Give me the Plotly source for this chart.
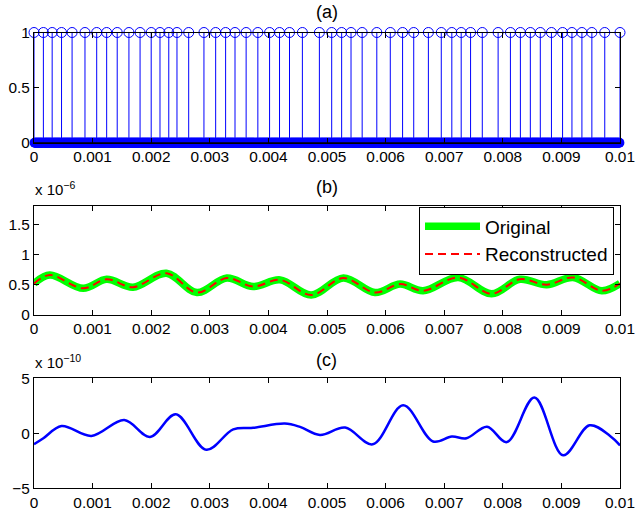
import numpy as np
import plotly.graph_objects as go

# ---------------- data ----------------
# (a) sampling pattern: times where the mask equals 1
sample_times = [0.0, 0.00016, 0.00031, 0.00047, 0.00065, 0.00087, 0.00107, 0.00124,
                0.00142, 0.00162, 0.00181, 0.00200, 0.00215, 0.00230, 0.00244, 0.00264,
                0.00290, 0.00310, 0.00327, 0.00343, 0.00362, 0.00382, 0.00402, 0.00419,
                0.00436, 0.00458, 0.00487, 0.00508, 0.00525, 0.00541, 0.00560, 0.00585,
                0.00608, 0.00629, 0.00648, 0.00673, 0.00695, 0.00713, 0.00729, 0.00745,
                0.00765, 0.00792, 0.00813, 0.00830, 0.00847, 0.00864, 0.00883, 0.00902,
                0.00918, 0.00935, 0.00952, 0.00974, 0.01]
n_grid = 1001  # number of time samples shown on the dense zero band

# (b) original / reconstructed signal (units of 1e-6)
t_b = [0.0, 0.00027, 0.00084, 0.00124, 0.00169, 0.00226, 0.00278, 0.00329, 0.00374,
       0.00420, 0.00473, 0.00528, 0.00582, 0.00625, 0.00664, 0.00724, 0.00781, 0.00829,
       0.00875, 0.00920, 0.00969, 0.01]
orig_b = [0.52, 0.66, 0.44, 0.59, 0.46, 0.69, 0.37, 0.61, 0.47, 0.58, 0.33, 0.61, 0.37,
          0.51, 0.40, 0.62, 0.35, 0.59, 0.50, 0.62, 0.40, 0.52]
recon_b = list(orig_b)

# (c) reconstruction error (units of 1e-10)
t_c = [0.0, 0.00016, 0.00047, 0.00098, 0.00154, 0.00198, 0.00242, 0.00294, 0.00340,
       0.00374, 0.00428, 0.00454, 0.00488, 0.00531, 0.00578, 0.00630, 0.00681, 0.00713,
       0.00738, 0.00773, 0.00807, 0.00854, 0.00903, 0.00948, 0.00983, 0.01]
err_c = [-1.0, -0.45, 0.66, -0.24, 1.2, -0.33, 1.73, -1.5, 0.36, 0.5, 0.88, 0.58, -0.15,
         0.52, -1.0, 2.55, -0.75, -0.3, -0.45, 0.6, -0.8, 3.25, -2.0, 0.73, -0.24, -1.1]

x_ticks = [0, 0.001, 0.002, 0.003, 0.004, 0.005, 0.006, 0.007, 0.008, 0.009, 0.01]
x_ticklabels = ["0", "0.001", "0.002", "0.003", "0.004", "0.005", "0.006", "0.007",
                "0.008", "0.009", "0.01"]
ya_ticks = [0, 0.5, 1]
ya_labels = ["0", "0.5", "1"]
yb_ticks = [0, 0.5, 1, 1.5]
yb_labels = ["0", "0.5", "1", "1.5"]
yc_ticks = [-5, 0, 5]
yc_labels = ["\u22125", "0", "5"]

# ---------------- figure ----------------
W, H = 635, 517
FONT = "Liberation Sans, Arial, Helvetica, sans-serif"
BLUE = "rgb(0,0,255)"

fig = go.Figure()

grid_t = np.linspace(0, 0.01, n_grid)
ones_set = set(round(v, 5) for v in sample_times)
zero_t = [float(t) for t in grid_t if round(float(t), 5) not in ones_set]

# (a) zero markers (dense band)
fig.add_trace(go.Scatter(x=zero_t, y=[0] * len(zero_t), mode="markers",
                         marker=dict(symbol="circle", size=10, color=BLUE,
                                     line=dict(width=0)),
                         cliponaxis=False, showlegend=False, xaxis="x", yaxis="y"))
# stems
sx, sy = [], []
for t in sample_times:
    sx += [t, t, None]
    sy += [0, 1, None]
fig.add_trace(go.Scatter(x=sx, y=sy, mode="lines", line=dict(color=BLUE, width=1),
                         showlegend=False, xaxis="x", yaxis="y", cliponaxis=False))
fig.add_trace(go.Scatter(x=sample_times, y=[1] * len(sample_times), mode="markers",
                         marker=dict(symbol="circle-open", size=10, color=BLUE,
                                     line=dict(width=1, color=BLUE)),
                         cliponaxis=False, showlegend=False, xaxis="x", yaxis="y"))
# baseline
fig.add_trace(go.Scatter(x=[0, 0.01], y=[0, 0], mode="lines",
                         line=dict(color="black", width=1.5), showlegend=False,
                         xaxis="x", yaxis="y", cliponaxis=False))

# (b)
fig.add_trace(go.Scatter(x=t_b, y=orig_b, mode="lines", name="Original",
                         line=dict(color="rgb(0,255,0)", width=7.5, shape="spline", smoothing=1.0),
                         xaxis="x2", yaxis="y2"))
fig.add_trace(go.Scatter(x=t_b, y=recon_b, mode="lines", name="Reconstructed",
                         line=dict(color="rgb(255,0,0)", width=2, dash="8px,5px",
                                   shape="spline", smoothing=1.0),
                         xaxis="x2", yaxis="y2"))

# (c)
fig.add_trace(go.Scatter(x=t_c, y=err_c, mode="lines",
                         line=dict(color=BLUE, width=2.5, shape="spline", smoothing=1.0),
                         showlegend=False, xaxis="x3", yaxis="y3"))

xd = [34 / W, 620 / W]


def ydom(top, bottom):
    return [1 - bottom / H, 1 - top / H]


common_axis = dict(showline=True, linecolor="black", linewidth=1, mirror="ticks",
                   ticks="inside", ticklen=5, tickcolor="black", tickwidth=1,
                   showgrid=False, zeroline=False, automargin=False,
                   ticklabeloverflow="allow",
                   tickfont=dict(family=FONT, size=15.4, color="black"))

fig.update_layout(
    width=W, height=H,
    margin=dict(l=0, r=0, t=0, b=0, pad=0, autoexpand=False),
    paper_bgcolor="white", plot_bgcolor="white",
    font=dict(family=FONT, size=15.4, color="black"),
    xaxis=dict(domain=xd, range=[0, 0.01], tickvals=x_ticks, ticktext=x_ticklabels,
               anchor="y", **common_axis),
    yaxis=dict(domain=ydom(32.5, 142.7), range=[0, 1], tickvals=ya_ticks,
               ticktext=ya_labels, anchor="x", **common_axis),
    xaxis2=dict(domain=xd, range=[0, 0.01], tickvals=x_ticks, ticktext=x_ticklabels,
                anchor="y2", **common_axis),
    yaxis2=dict(domain=ydom(206, 315), range=[0, 1.8], tickvals=yb_ticks,
                ticktext=yb_labels, anchor="x2", **common_axis),
    xaxis3=dict(domain=xd, range=[0, 0.01], tickvals=x_ticks, ticktext=x_ticklabels,
                anchor="y3", **common_axis),
    yaxis3=dict(domain=ydom(378.3, 488.3), range=[-5, 5], tickvals=yc_ticks,
                ticktext=yc_labels, anchor="x3", **common_axis),
    legend=dict(x=419 / W, y=1 - 206.5 / H, xanchor="left", yanchor="top",
                bgcolor="white", bordercolor="black", borderwidth=1,
                itemwidth=55,
                font=dict(family=FONT, size=19, color="black"),
                tracegroupgap=0),
    showlegend=True,
)

cx = (34 + 620) / 2 / W
for txt, yc in [("(a)", 12), ("(b)", 187), ("(c)", 359.5)]:
    fig.add_annotation(text=txt, x=cx, y=1 - yc / H, xref="paper", yref="paper",
                       showarrow=False, xanchor="center", yanchor="middle",
                       font=dict(family=FONT, size=18, color="black"))
for txt, yb in [("x 10<sup>\u22126</sup>", 200), ("x 10<sup>\u221210</sup>", 373)]:
    fig.add_annotation(text=txt, x=33 / W, y=1 - yb / H, xref="paper", yref="paper",
                       showarrow=False, xanchor="left", yanchor="bottom",
                       font=dict(family=FONT, size=15, color="black"))

fig.write_html("out.html")
